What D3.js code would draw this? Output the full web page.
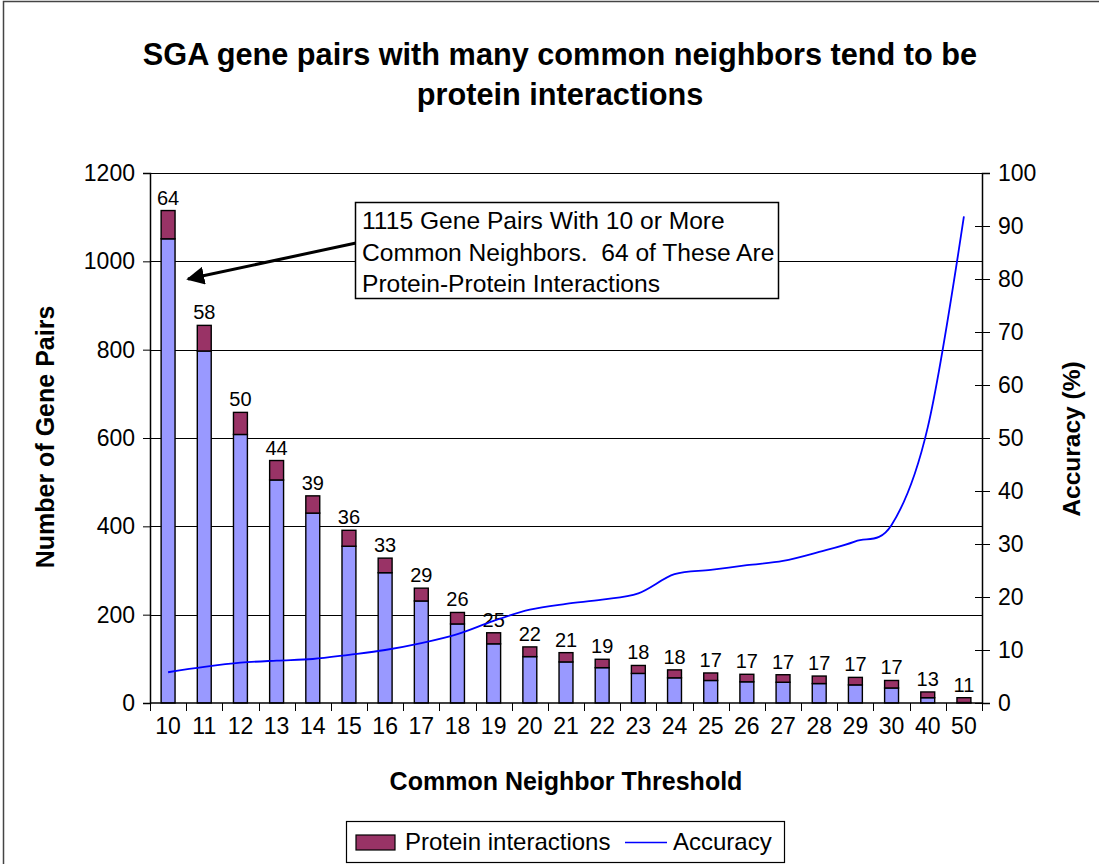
<!DOCTYPE html>
<html>
<head>
<meta charset="utf-8">
<script src="https://cdn.jsdelivr.net/npm/d3@7"></script>
<style>
  body { margin: 0; background: #fff; }
  svg { font-family: "Liberation Sans", Arial, sans-serif; }
  .tick text { font-size: 23px; fill: #000; }
</style>
</head>
<body>
<script>
var fullWidth = 1099;
var fullHeight = 864;

var plot = {left: 150, right: 982, top: 173, bottom: 703};

// categories and series
var thresholds = ["10", "11", "12", "13", "14", "15", "16", "17", "18", "19", "20",
                  "21", "22", "23", "24", "25", "26", "27", "28", "29", "30", "40", "50"];
var otherPairs = [1051, 797, 608, 505, 430, 355, 295, 231, 179, 134, 105,
                  93, 80, 67, 57, 51, 48, 47, 44, 41, 34, 12, 1];
var proteinInteractions = [64, 58, 50, 44, 39, 36, 33, 29, 26, 25, 22,
                           21, 19, 18, 18, 17, 17, 17, 17, 17, 17, 13, 11];
var accuracy = [5.8, 6.8, 7.6, 8.0, 8.3, 9.1, 10.0, 11.3, 13.0, 15.5, 17.6,
                18.7, 19.5, 20.7, 24.3, 25.1, 26.0, 26.8, 28.5, 30.5, 33.6, 52.0, 91.8];
var leftTicks = [0, 200, 400, 600, 800, 1000, 1200];
var rightTicks = [0, 10, 20, 30, 40, 50, 60, 70, 80, 90, 100];

var titleLines = ["SGA gene pairs with many common neighbors tend to be",
                  "protein interactions"];
var noteLines = ["1115 Gene Pairs With 10 or More",
                 "Common Neighbors.  64 of These Are",
                 "Protein-Protein Interactions"];

var svg = d3.select("body")
            .append("svg")
            .attr("width", fullWidth)
            .attr("height", fullHeight);

// chart frame
svg.append("rect")
   .attr("x", 3.5)
   .attr("y", 1.5)
   .attr("width", 1110)
   .attr("height", 900)
   .style("fill", "none")
   .style("stroke", "#444")
   .style("stroke-width", 1.5);

var xScale = d3.scaleBand()
               .domain(thresholds)
               .range([plot.left, plot.right])
               .paddingInner(0.615)
               .paddingOuter(0.3075);
var step = xScale.step();

var yScale = d3.scaleLinear()
               .domain([0, 1200])
               .range([plot.bottom, plot.top]);

var yRight = d3.scaleLinear()
               .domain([0, 100])
               .range([plot.bottom, plot.top]);

// gridlines
svg.append("g")
   .selectAll("line")
   .data(leftTicks.slice(1))
   .enter()
   .append("line")
   .attr("x1", plot.left)
   .attr("x2", plot.right)
   .attr("y1", function(d) { return Math.round(yScale(d)) + 0.5; })
   .attr("y2", function(d) { return Math.round(yScale(d)) + 0.5; })
   .style("stroke", "#000")
   .style("stroke-width", 1);

// stacked bars
var stack = thresholds.map(function(t, i) {
    return {cat: t, other: otherPairs[i], prot: proteinInteractions[i]};
});

var bars = svg.append("g");
bars.selectAll(".other")
    .data(stack)
    .enter()
    .append("rect")
    .attr("class", "other")
    .attr("x", function(d) { return xScale(d.cat); })
    .attr("width", xScale.bandwidth())
    .attr("y", function(d) { return yScale(d.other); })
    .attr("height", function(d) { return yScale(0) - yScale(d.other); })
    .style("fill", "#9999ff")
    .style("stroke", "#000")
    .style("stroke-width", 1.4);

bars.selectAll(".prot")
    .data(stack)
    .enter()
    .append("rect")
    .attr("class", "prot")
    .attr("x", function(d) { return xScale(d.cat); })
    .attr("width", xScale.bandwidth())
    .attr("y", function(d) { return yScale(d.other + d.prot); })
    .attr("height", function(d) { return yScale(d.other) - yScale(d.other + d.prot); })
    .style("fill", "#993366")
    .style("stroke", "#000")
    .style("stroke-width", 1.4);

// data labels
bars.selectAll(".lbl")
    .data(stack)
    .enter()
    .append("text")
    .attr("class", "lbl")
    .attr("x", function(d) { return xScale(d.cat) + xScale.bandwidth() / 2; })
    .attr("y", function(d) { return yScale(d.other + d.prot) - 6; })
    .style("text-anchor", "middle")
    .style("font-size", "20px")
    .text(function(d) { return d.prot; });

// accuracy line (smoothed like the original)
var line = d3.line()
             .x(function(d, i) { return xScale(thresholds[i]) + xScale.bandwidth() / 2; })
             .y(function(d) { return yRight(d); })
             .curve(d3.curveCardinal.tension(0));

svg.append("path")
   .datum(accuracy)
   .attr("d", line)
   .style("fill", "none")
   .style("stroke", "#0000ff")
   .style("stroke-width", 1.8);

// left axis
svg.append("g")
   .attr("transform", "translate(" + plot.left + ",0)")
   .call(d3.axisLeft(yScale).tickValues(leftTicks).tickFormat(d3.format("d"))
           .tickSize(7).tickPadding(8))
   .call(function(g) { g.select(".domain").style("stroke", "#000").style("stroke-width", 1.5); });

// right axis, ticks cross the line
var rAxis = svg.append("g")
   .attr("transform", "translate(" + plot.right + ",0)")
   .call(d3.axisRight(yRight).tickValues(rightTicks).tickFormat(d3.format("d"))
           .tickSize(8).tickPadding(8));
rAxis.select(".domain").style("stroke", "#000").style("stroke-width", 1.5);
rAxis.selectAll(".tick line").attr("x1", -7);

// bottom axis: labels at centers, ticks between categories
var xAxisG = svg.append("g")
   .attr("transform", "translate(0," + plot.bottom + ")")
   .call(d3.axisBottom(xScale).tickSize(0).tickPadding(15));
xAxisG.select(".domain").remove();
xAxisG.append("line")
   .attr("x1", plot.left)
   .attr("x2", plot.right)
   .style("stroke", "#000")
   .style("stroke-width", 1.5);
xAxisG.selectAll(".sep")
   .data(d3.range(thresholds.length + 1))
   .enter()
   .append("line")
   .attr("class", "sep")
   .attr("x1", function(i) { return Math.round(plot.left + i * step) + 0.5; })
   .attr("x2", function(i) { return Math.round(plot.left + i * step) + 0.5; })
   .attr("y1", 0)
   .attr("y2", 8)
   .style("stroke", "#000");

// title
svg.append("g")
   .selectAll("text")
   .data(titleLines)
   .enter()
   .append("text")
   .attr("x", 560)
   .attr("y", function(d, i) { return 65 + i * 40; })
   .style("text-anchor", "middle")
   .style("font-size", "30.7px")
   .style("font-weight", "bold")
   .text(function(d) { return d; });

// axis titles
svg.append("text")
   .attr("x", 566)
   .attr("y", 790)
   .style("text-anchor", "middle")
   .style("font-size", "25px")
   .style("font-weight", "bold")
   .text("Common Neighbor Threshold");

svg.append("text")
   .attr("transform", "translate(54,437) rotate(-90)")
   .style("text-anchor", "middle")
   .style("font-size", "25px")
   .style("font-weight", "bold")
   .text("Number of Gene Pairs");

svg.append("text")
   .attr("transform", "translate(1080,439) rotate(-90)")
   .style("text-anchor", "middle")
   .style("font-size", "24.5px")
   .style("font-weight", "bold")
   .text("Accuracy (%)");

// annotation box with arrow
svg.append("defs").append("marker")
   .attr("id", "arrow")
   .attr("viewBox", "0 0 10 10")
   .attr("refX", 9)
   .attr("refY", 5)
   .attr("markerWidth", 6)
   .attr("markerHeight", 6)
   .attr("orient", "auto")
   .append("path")
   .attr("d", "M0,0 L10,5 L0,10 Z")
   .style("fill", "#000");

svg.append("line")
   .attr("x1", 356)
   .attr("y1", 243)
   .attr("x2", 188)
   .attr("y2", 279)
   .style("stroke", "#000")
   .style("stroke-width", 3)
   .attr("marker-end", "url(#arrow)");

svg.append("rect")
   .attr("x", 355.5)
   .attr("y", 202.5)
   .attr("width", 423)
   .attr("height", 96)
   .style("fill", "#fff")
   .style("stroke", "#000")
   .style("stroke-width", 1.5);

svg.append("g")
   .selectAll("text")
   .data(noteLines)
   .enter()
   .append("text")
   .attr("x", 362)
   .attr("y", function(d, i) { return 229 + i * 31.5; })
   .style("font-size", "24.6px")
   .style("white-space", "pre")
   .text(function(d) { return d; });

// legend
var legend = svg.append("g");
legend.append("rect")
   .attr("x", 346.5)
   .attr("y", 821.5)
   .attr("width", 438)
   .attr("height", 41)
   .style("fill", "#fff")
   .style("stroke", "#000")
   .style("stroke-width", 1.2);
legend.append("rect")
   .attr("x", 356)
   .attr("y", 835)
   .attr("width", 39)
   .attr("height", 15)
   .style("fill", "#993366")
   .style("stroke", "#000")
   .style("stroke-width", 1.2);
legend.append("text")
   .attr("x", 405)
   .attr("y", 850)
   .style("font-size", "24px")
   .text("Protein interactions");
legend.append("line")
   .attr("x1", 625)
   .attr("x2", 667)
   .attr("y1", 842.5)
   .attr("y2", 842.5)
   .style("stroke", "#0000ff")
   .style("stroke-width", 1.5);
legend.append("text")
   .attr("x", 673)
   .attr("y", 850)
   .style("font-size", "24px")
   .text("Accuracy");
</script>
</body>
</html>
